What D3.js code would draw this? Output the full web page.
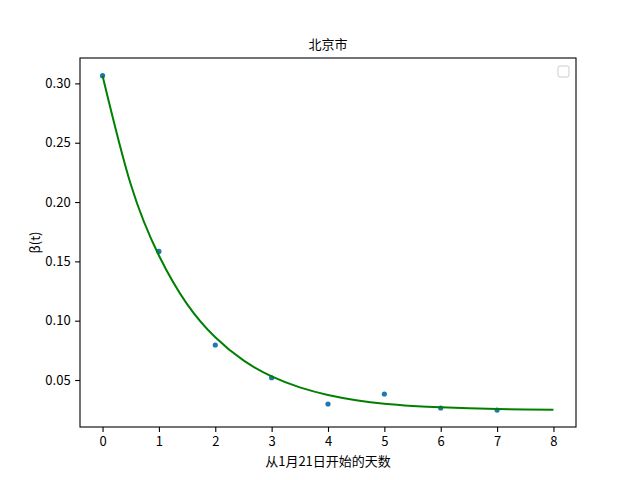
<!DOCTYPE html>
<meta charset="utf-8">
<style>
  body { margin: 0; background: #fff; }
  text { font-family: "Noto Sans CJK SC", "DejaVu Sans", sans-serif; }
</style>
<svg width="640" height="480"></svg>
<script src="https://d3js.org/d3.v7.min.js"></script>
<script>

// observed beta(t) per day
var days = [0, 1, 2, 3, 4, 5, 6, 7];
var beta = [0.3065, 0.1584, 0.0795, 0.0519, 0.0298, 0.0382, 0.0264, 0.0247];

// fitted curve, every half day
var fitDays = [0, 0.5, 1, 1.5, 2, 2.5, 3, 3.5, 4, 4.5, 5, 5.5, 6, 6.5, 7, 7.5, 8];
var fitBeta = [0.3065, 0.2150, 0.1550, 0.1140, 0.0860, 0.0665, 0.0530, 0.0438, 0.0374,
               0.0330, 0.0300, 0.0282, 0.0270, 0.0262, 0.0256, 0.0252, 0.0250];

var xTicks = [0, 1, 2, 3, 4, 5, 6, 7, 8];
var yTicks = [0.05, 0.10, 0.15, 0.20, 0.25, 0.30];

var svg = d3.select("svg"),
    margin = {top: 58, right: 64, bottom: 53, left: 80},
    width = +svg.attr("width") - margin.left - margin.right,
    height = +svg.attr("height") - margin.top - margin.bottom,
    g = svg.append("g").attr("transform", "translate(" + margin.left + "," + margin.top + ")");

var x = d3.scaleLinear().domain([-0.4, 8.4]).range([0, width]);
var y = d3.scaleLinear().domain([0.0104, 0.3214]).range([height, 0]);

// axes
var xAxis = g.append("g")
    .attr("transform", "translate(0," + height + ")")
    .call(d3.axisBottom(x).tickValues(xTicks).tickFormat(d3.format("d")).tickSize(4.9).tickPadding(4.5));
var yAxis = g.append("g")
    .call(d3.axisLeft(y).tickValues(yTicks).tickFormat(d3.format(".2f")).tickSize(4.9).tickPadding(4.5));

[xAxis, yAxis].forEach(function(a) {
  a.select(".domain").remove();
  a.selectAll("line").attr("stroke", "#000").attr("stroke-width", 1.1);
  a.selectAll("text").attr("fill", "#000").style("font-size", "13px");
});

// frame
g.append("rect")
    .attr("width", width)
    .attr("height", height)
    .attr("fill", "none")
    .attr("stroke", "#000")
    .attr("stroke-width", 1.1);

// points
g.selectAll(".dot")
    .data(days)
  .enter().append("circle")
    .attr("class", "dot")
    .attr("cx", function(d) { return x(d); })
    .attr("cy", function(d, i) { return y(beta[i]); })
    .attr("r", 2.6)
    .attr("fill", "#1f77b4");

// fit line
var line = d3.line()
    .x(function(d) { return x(d); })
    .y(function(d, i) { return y(fitBeta[i]); })
    .curve(d3.curveNatural);

g.append("path")
    .datum(fitDays)
    .attr("fill", "none")
    .attr("stroke", "#008000")
    .attr("stroke-width", 2)
    .attr("d", line);

// empty legend box
g.append("rect")
    .attr("x", width - 18)
    .attr("y", 8)
    .attr("width", 11)
    .attr("height", 11)
    .attr("rx", 2)
    .attr("fill", "#fff")
    .attr("stroke", "#cccccc")
    .attr("stroke-width", 1);

// title and labels
svg.append("text")
    .attr("x", margin.left + width / 2)
    .attr("y", 49)
    .attr("text-anchor", "middle")
    .style("font-size", "13px")
    .text("北京市");

svg.append("text")
    .attr("x", margin.left + width / 2)
    .attr("y", 466)
    .attr("text-anchor", "middle")
    .style("font-size", "13px")
    .text("从1月21日开始的天数");

svg.append("text")
    .attr("transform", "translate(40," + (margin.top + height / 2) + ") rotate(-90)")
    .attr("text-anchor", "middle")
    .style("font-size", "13px")
    .text("β(t)");

</script>
